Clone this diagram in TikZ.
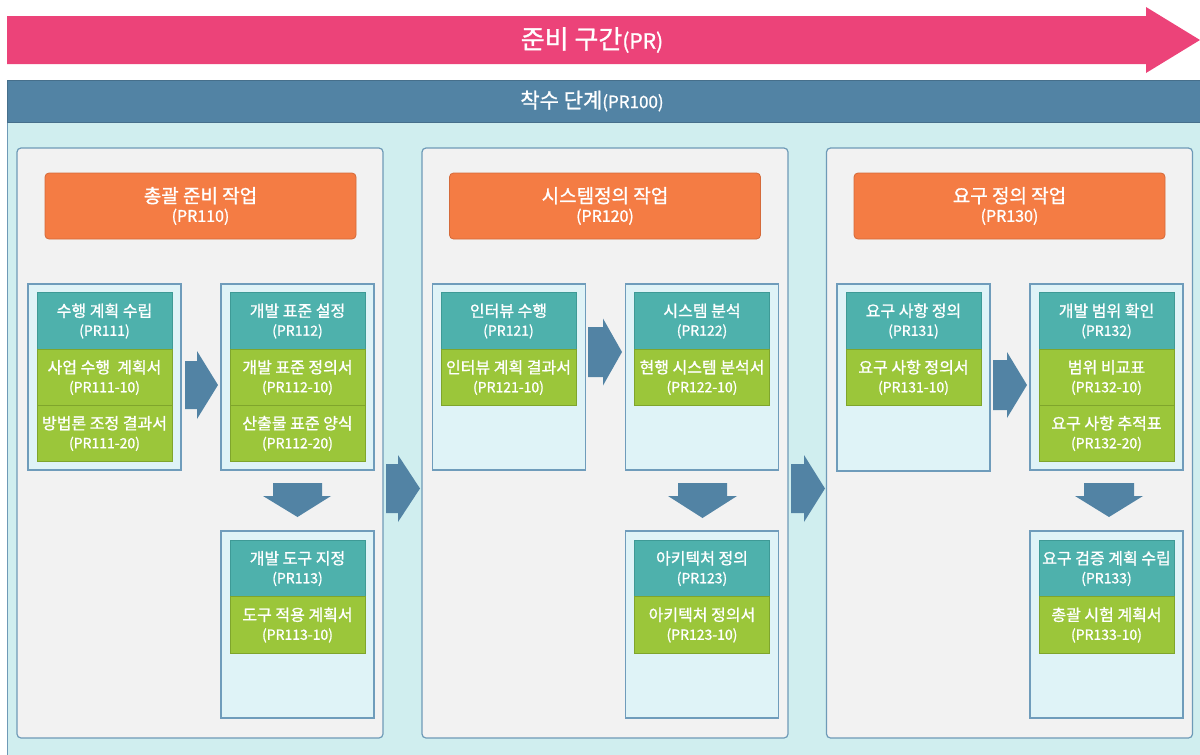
\documentclass[tikz,border=0pt]{standalone}
\usepackage{fontspec}
\setmainfont{Noto Sans CJK KR}
\newfontfamily\medfont{Noto Sans CJK KR}[FakeBold=1.1]
\definecolor{pinkc}{HTML}{EC4379}
\definecolor{hdrblue}{HTML}{5283A4}
\definecolor{panelc}{HTML}{D0EEEF}
\definecolor{panelbd}{HTML}{6E9AB7}
\definecolor{colc}{HTML}{F2F2F2}
\definecolor{orangec}{HTML}{F47C44}
\definecolor{orangebd}{HTML}{D46A3A}
\definecolor{tealc}{HTML}{4EB1AC}
\definecolor{tealbd}{HTML}{3E9A96}
\definecolor{greenc}{HTML}{9BC63A}
\definecolor{greenbd}{HTML}{7FA52C}
\definecolor{innerc}{HTML}{DFF3F7}
\definecolor{innerbd}{HTML}{6F9CBB}
\newcommand{\maintxt}{\medfont\fontsize{16}{19}\selectfont}
\newcommand{\codetxt}{\fontsize{14}{17}\selectfont}
\begin{document}
\begin{tikzpicture}[x=1pt,y=-1pt,
  colbox/.style={draw=panelbd,line width=1.2pt,fill=colc,rounded corners=4pt,minimum width=366pt,minimum height=590pt,inner sep=0pt},
  taskhead/.style={draw=orangebd,line width=0.8pt,fill=orangec,rounded corners=4pt,minimum width=311pt,minimum height=66pt,inner sep=0pt,text=white,align=center,font=\medfont\fontsize{19}{22}\selectfont},
  innerbox/.style={draw=innerbd,line width=1.5pt,fill=innerc,minimum width=153pt,inner sep=0pt},
  tealcard/.style={draw=tealbd,line width=1pt,fill=tealc,minimum width=135pt,minimum height=56.5pt,inner sep=0pt,text=white,align=center,font=\maintxt},
  greencard/.style={draw=greenbd,line width=1pt,fill=greenc,minimum width=135pt,minimum height=56.5pt,inner sep=0pt,text=white,align=center,font=\maintxt},
  blockarrow/.style={fill=hdrblue,draw=none},
  titletxt/.style={text=white,inner sep=0pt,font=\medfont}
]
\useasboundingbox (0,0) rectangle (1200,755);
% top pink arrow
\fill[pinkc] (7,16) -- (1146,16) -- (1146,7) -- (1200,40) -- (1146,73) -- (1146,64) -- (7,64) -- cycle;
\node[titletxt] (sect) at (592,40) {{\fontsize{26}{30}\selectfont 준비 구간}{\fontsize{21}{25}\selectfont (PR)}};
% phase panel
\filldraw[fill=panelc,draw=panelbd,line width=1pt] (7,122) rectangle (1201,756);
\filldraw[fill=hdrblue,draw=hdrblue!85!black,line width=0.8pt] (7,80) rectangle (1201,122);
\node[titletxt] (phase) at (592,101) {{\fontsize{21}{25}\selectfont 착수 단계}{\fontsize{17}{20}\selectfont (PR100)}};
% columns
\node[colbox] (col1) at (200,443) {};
\node[colbox] (col2) at (605,443) {};
\node[colbox] (col3) at (1009.5,443) {};
\node[taskhead] (h110) at (200.5,206) {총괄 준비 작업\\[-3pt]{\fontsize{16}{19}\selectfont (PR110)}};
\node[taskhead] (h120) at (605,206) {시스템정의 작업\\[-3pt]{\fontsize{16}{19}\selectfont (PR120)}};
\node[taskhead] (h130) at (1009.5,206) {요구 정의 작업\\[-3pt]{\fontsize{16}{19}\selectfont (PR130)}};
% inner boxes
\node[innerbox,minimum height=186pt] (b1a) at (104.5,377) {};
\node[innerbox,minimum height=186pt] (b1b) at (297.5,377) {};
\node[innerbox,minimum height=187pt] (b1c) at (297.5,624.5) {};
\node[innerbox,minimum height=186pt] (b2a) at (509,377) {};
\node[innerbox,minimum height=186pt] (b2b) at (702,377) {};
\node[innerbox,minimum height=187pt] (b2c) at (702,624.5) {};
\node[innerbox,minimum height=187pt] (b3a) at (913.5,377.5) {};
\node[innerbox,minimum height=186pt] (b3b) at (1106.5,377) {};
\node[innerbox,minimum height=187pt] (b3c) at (1106.5,624.5) {};
% cards column 1
\node[tealcard] (c111) at (104.5,321) {수행 계획 수립\\{\codetxt (PR111)}};
\node[greencard] (c111a) at (104.5,377.5) {사업 수행 \ 계획서\\{\codetxt (PR111-10)}};
\node[greencard] (c111b) at (104.5,433.5) {방법론 조정 결과서\\{\codetxt (PR111-20)}};
\node[tealcard] (c112) at (297.5,321) {개발 표준 설정\\{\codetxt (PR112)}};
\node[greencard] (c112a) at (297.5,377.5) {개발 표준 정의서\\{\codetxt (PR112-10)}};
\node[greencard] (c112b) at (297.5,433.5) {산출물 표준 양식\\{\codetxt (PR112-20)}};
\node[tealcard] (c113) at (297.5,568.5) {개발 도구 지정\\{\codetxt (PR113)}};
\node[greencard] (c113a) at (297.5,625) {도구 적용 계획서\\{\codetxt (PR113-10)}};
% cards column 2
\node[tealcard] (c121) at (508.5,321) {인터뷰 수행\\{\codetxt (PR121)}};
\node[greencard] (c121a) at (508.5,377.5) {인터뷰 계획 결과서\\{\codetxt (PR121-10)}};
\node[tealcard] (c122) at (702,321) {시스템 분석\\{\codetxt (PR122)}};
\node[greencard] (c122a) at (702,377.5) {현행 시스템 분석서\\{\codetxt (PR122-10)}};
\node[tealcard] (c123) at (702,568.5) {아키텍처 정의\\{\codetxt (PR123)}};
\node[greencard] (c123a) at (702,625) {아키텍처 정의서\\{\codetxt (PR123-10)}};
% cards column 3
\node[tealcard] (c131) at (913.5,321) {요구 사항 정의\\{\codetxt (PR131)}};
\node[greencard] (c131a) at (913.5,377.5) {요구 사항 정의서\\{\codetxt (PR131-10)}};
\node[tealcard] (c132) at (1106.5,321) {개발 범위 확인\\{\codetxt (PR132)}};
\node[greencard] (c132a) at (1106.5,377.5) {범위 비교표\\{\codetxt (PR132-10)}};
\node[greencard] (c132b) at (1106.5,433.5) {요구 사항 추적표\\{\codetxt (PR132-20)}};
\node[tealcard] (c133) at (1106.5,568.5) {요구 검증 계획 수립\\{\codetxt (PR133)}};
\node[greencard] (c133a) at (1106.5,625) {총괄 시험 계획서\\{\codetxt (PR133-10)}};
% right block arrows
\fill[blockarrow] (185,361) -- (197,361) -- (197,351) -- (218,385) -- (197,419) -- (197,409) -- (185,409) -- cycle;
\fill[blockarrow] (588,327) -- (603,327) -- (603,318.5) -- (622,352) -- (603,385.5) -- (603,377) -- (588,377) -- cycle;
\fill[blockarrow] (993,360) -- (1007,360) -- (1007,352) -- (1027,385) -- (1007,418) -- (1007,410) -- (993,410) -- cycle;
\fill[blockarrow] (386,464) -- (398,464) -- (398,455) -- (420,488.5) -- (398,522) -- (398,513) -- (386,513) -- cycle;
\fill[blockarrow] (791,464) -- (804,464) -- (804,455) -- (825,488.5) -- (804,522) -- (804,513) -- (791,513) -- cycle;
% down block arrows
\fill[blockarrow] (273,483) -- (322,483) -- (322,496) -- (331,496) -- (297.5,517) -- (263,496) -- (273,496) -- cycle;
\fill[blockarrow] (678,483) -- (727,483) -- (727,496) -- (737,496) -- (702.5,518) -- (668,496) -- (678,496) -- cycle;
\fill[blockarrow] (1084,483) -- (1134,483) -- (1134,496) -- (1143,496) -- (1109,517) -- (1075,496) -- (1084,496) -- cycle;
\end{tikzpicture}
\end{document}
